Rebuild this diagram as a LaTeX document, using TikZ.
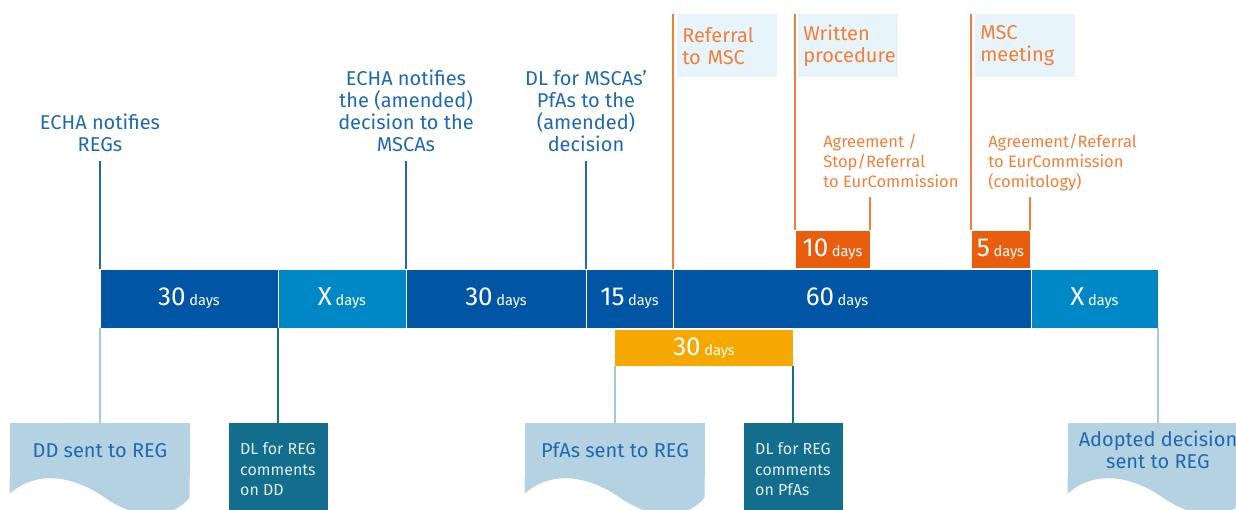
\documentclass[tikz,border=0pt]{standalone}
\usepackage{fontspec}
\setmainfont{Fira Sans}
\usepackage{tikz}
\usetikzlibrary{positioning}

\definecolor{barblue}{RGB}{0,85,164}
\definecolor{lightbar}{RGB}{0,136,198}
\definecolor{yellowbar}{RGB}{245,168,0}
\definecolor{redorange}{RGB}{232,94,14}
\definecolor{orangeline}{RGB}{240,128,55}
\definecolor{textblue}{RGB}{30,105,178}
\definecolor{docfill}{RGB}{180,210,225}
\definecolor{tealbox}{RGB}{18,110,140}
\definecolor{tealtext}{RGB}{225,235,240}
\definecolor{labelfill}{RGB}{232,244,251}
\definecolor{paleline}{RGB}{165,200,222}

\newcommand{\dur}[1]{{\fontsize{19.5}{19.5}\selectfont #1} {\fontsize{11}{11}\selectfont days}}

\begin{document}
\begin{tikzpicture}[x=0.75pt,y=0.75pt,yscale=-1,xscale=1,
	seg/.style={draw=white, line width=0.75pt, fill=barblue, text=white, inner sep=0pt, outer sep=0pt, minimum height=44.25pt},
	shortbar/.style={seg, fill=redorange, minimum height=28.5pt, anchor=north west},
	event/.style={text=textblue, align=center, inner xsep=0pt, inner ysep=6.75pt, anchor=south, font=\fontsize{15}{16.5}\selectfont},
	stage/.style={fill=labelfill, text=orangeline, anchor=north west, align=left, text width=67.5pt, inner xsep=3.75pt, minimum height=47.25pt, font=\fontsize{15}{16.5}\selectfont},
	outcome/.style={text=orangeline, anchor=north west, align=left, inner sep=0pt, font=\fontsize{12.4}{15}\selectfont},
	docnode/.style={fill=docfill, text=textblue, anchor=north, align=center, minimum width=135pt, minimum height=40.5pt, font=\fontsize{15}{16.5}\selectfont},
	dlnode/.style={fill=tealbox, text=tealtext, anchor=north, align=left, minimum width=74.25pt, minimum height=69pt, font=\fontsize{12}{15.6}\selectfont},
	blueline/.style={draw=textblue, line width=1.5pt},
	orline/.style={draw=orangeline, line width=1.5pt},
	paleconn/.style={draw=paleline, line width=1.5pt},
	tealconn/.style={draw=tealbox, line width=1.5pt}]
	\useasboundingbox (0,0) rectangle (1236,510);
	
	% main time bar
	\node[seg, anchor=north west, minimum width=133.5pt] (s1) at (100,269) {\dur{30}};
	\node[seg, fill=lightbar, minimum width=96pt, right=0pt of s1] (s2) {\dur{X}};
	\node[seg, minimum width=135pt, right=0pt of s2] (s3) {\dur{30}};
	\node[seg, minimum width=65.25pt, right=0pt of s3] (s4) {\dur{15}};
	\node[seg, minimum width=268.5pt, right=0pt of s4] (s5) {\dur{60}\hspace*{22.5pt}};
	\node[seg, fill=lightbar, minimum width=95.25pt, right=0pt of s5] (s6) {\dur{X}};
	
	% PfA period
	\node[seg, draw=none, fill=yellowbar, minimum height=27pt, minimum width=133.5pt, anchor=north west] (o30) at (615,330) {\dur{30}};
	
	% short MSC periods
	\node[shortbar, minimum width=56.25pt] (d10) at (795,230) {\dur{10}};
	\node[shortbar, minimum width=44.25pt] (d5) at (971,230) {\dur{5}};
	
	% events above the bar
	\node[event] (n1) at (100,161) {ECHA notifies\\REGs};
	\node[event] (n2) at (406,161) {ECHA notifies\\the (amended)\\decision to the\\MSCAs};
	\node[event] (n3) at (586,161) {DL for MSCAs’\\PfAs to the\\(amended)\\decision};
	\draw[blueline] (n1.south) -- (s1.north west);
	\draw[blueline] (n2.south) -- (s3.north west);
	\draw[blueline] (n3.south) -- (s4.north west);
	
	% MSC stages
	\coordinate (reftop) at (673,14);
	\coordinate (wrtop) at (795,14);
	\coordinate (msctop) at (971,14);
	\node[stage] (ref) at (677,14) {Referral\\to MSC};
	\node[stage] (wr) at (798,14) {Written\\procedure};
	\node[stage] (msc) at (975,14) {MSC\\meeting};
	\draw[orline] (reftop) -- (s5.north west);
	\draw[orline] (wrtop) -- (d10.north west);
	\draw[orline] (d10.north east) -- ++(0,-33);
	\draw[orline] (msctop) -- (d5.north west);
	\draw[orline] (d5.north east) -- ++(0,-33);
	\node[outcome] (agr1) at (823,134) {Agreement /\\Stop/Referral\\to EurCommission};
	\node[outcome] (agr2) at (988,134) {Agreement/Referral\\to EurCommission\\(comitology)};
	
	% documents and deadlines below
	\node[docnode] (dd) at (100,423) {DD sent to REG};
	\node[dlnode] (dl1) at (278,423) {DL for REG\\comments\\on DD};
	\node[docnode] (pfa) at (615,423) {PfAs sent to REG};
	\node[dlnode] (dl2) at (793,423) {DL for REG\\comments\\on PfAs};
	\node[docnode] (adopt) at (1158,423) {Adopted decision\\sent to REG};
	\foreach \d in {dd,pfa,adopt}
		\fill[docfill, shift={(\d.south west)}] (0,-1) -- (180,-1) -- (180,20) .. controls (160,44) and (125,41) .. (95,20) .. controls (60,-4) and (25,-6) .. (0,16) -- cycle;
	
	\draw[paleconn] (s1.south west) -- (dd.north);
	\draw[tealconn] (s2.south west) -- (dl1.north);
	\draw[paleconn] (o30.south west) -- (pfa.north);
	\draw[tealconn] (o30.south east) -- (dl2.north);
	\draw[paleconn] (s6.south east) -- (adopt.north);
	
\end{tikzpicture}
\end{document}
